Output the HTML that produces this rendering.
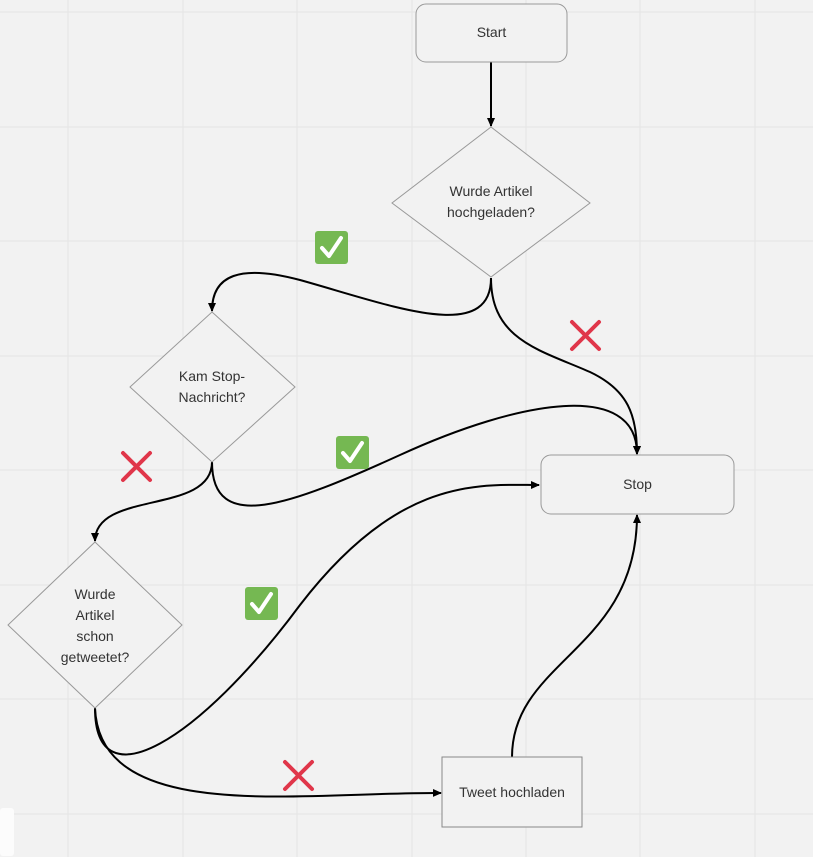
<!DOCTYPE html>
<html><head><meta charset="utf-8"><style>
html,body{margin:0;padding:0;background:#f2f2f2;}
svg{display:block}
text{font-family:"Liberation Sans","DejaVu Sans",sans-serif;font-size:14px;fill:#333;}
</style></head><body>
<svg width="813" height="857" viewBox="0 0 813 857" xmlns="http://www.w3.org/2000/svg">
<defs>
<marker id="a" markerWidth="10" markerHeight="10" refX="8" refY="5" orient="auto" markerUnits="userSpaceOnUse">
<path d="M0,1 L9,5 L0,9 Z" fill="#000"/>
</marker>
</defs>
<rect width="813" height="857" fill="#f2f2f2"/>
<g stroke="#e4e4e4" stroke-width="1">
<line x1="68" y1="0" x2="68" y2="857"/><line x1="183" y1="0" x2="183" y2="857"/>
<line x1="297" y1="0" x2="297" y2="857"/><line x1="412" y1="0" x2="412" y2="857"/>
<line x1="526" y1="0" x2="526" y2="857"/><line x1="640" y1="0" x2="640" y2="857"/>
<line x1="755" y1="0" x2="755" y2="857"/>
<line x1="0" y1="12" x2="813" y2="12"/><line x1="0" y1="127" x2="813" y2="127"/>
<line x1="0" y1="241" x2="813" y2="241"/><line x1="0" y1="356" x2="813" y2="356"/>
<line x1="0" y1="470" x2="813" y2="470"/><line x1="0" y1="585" x2="813" y2="585"/>
<line x1="0" y1="699" x2="813" y2="699"/><line x1="0" y1="814" x2="813" y2="814"/>
</g>
<rect x="0" y="808" width="14" height="48" rx="3" fill="#fcfcfc"/>

<g fill="none" stroke="#000" stroke-width="2">
<path d="M491,62 L491,126" marker-end="url(#a)"/>
<path d="M491,278 C491,345 390,305 300,280 C240,264 212,275 212,311" marker-end="url(#a)"/>
<path d="M491,278 C491,340 540,350 590,372 C628,390 637,415 637,454" marker-end="url(#a)"/>
<path d="M212,462 C212,535 290,505 400,455 C520,400 637,380 637,454" marker-end="url(#a)"/>
<path d="M212,462 C212,515 95,490 95,541" marker-end="url(#a)"/>
<path d="M95,708 C95,805 200,740 300,605 C400,475 480,485 539,485" marker-end="url(#a)"/>
<path d="M95,708 C100,825 300,792 441,793" marker-end="url(#a)"/>
<path d="M512,757 C512,660 637,650 637,515" marker-end="url(#a)"/>
</g>

<rect x="416" y="4" width="151" height="58" rx="10" fill="#f2f2f2" stroke="#999"/>
<text x="491.5" y="37" text-anchor="middle">Start</text>
<rect x="541" y="455" width="193" height="59" rx="10" fill="#f2f2f2" stroke="#999"/>
<text x="637.5" y="489" text-anchor="middle">Stop</text>
<rect x="442" y="757" width="140" height="70" fill="#f2f2f2" stroke="#888"/>
<text x="512" y="797" text-anchor="middle">Tweet hochladen</text>

<polygon points="491,127 590,203 491,277 392,203" fill="#f2f2f2" stroke="#999"/>
<text x="491" y="196" text-anchor="middle">Wurde Artikel</text>
<text x="491" y="217" text-anchor="middle">hochgeladen?</text>
<polygon points="212,312 295,387 212,462 130,387" fill="#f2f2f2" stroke="#999"/>
<text x="212" y="381" text-anchor="middle">Kam Stop-</text>
<text x="212" y="402" text-anchor="middle">Nachricht?</text>
<polygon points="95,542 182,625 95,708 8,625" fill="#f2f2f2" stroke="#999"/>
<text x="95" y="599" text-anchor="middle">Wurde</text>
<text x="95" y="620" text-anchor="middle">Artikel</text>
<text x="95" y="641" text-anchor="middle">schon</text>
<text x="95" y="662" text-anchor="middle">getweetet?</text>

<g>
<rect x="315" y="231" width="33" height="33" rx="3" fill="#75b852"/>
<path d="M322,248 L329,256 L341,238" fill="none" stroke="#fff" stroke-width="4" stroke-linecap="round" stroke-linejoin="round"/>
<rect x="336" y="436" width="33" height="33" rx="3" fill="#75b852"/>
<path d="M343,453 L350,461 L362,443" fill="none" stroke="#fff" stroke-width="4" stroke-linecap="round" stroke-linejoin="round"/>
<rect x="245" y="587" width="33" height="33" rx="3" fill="#75b852"/>
<path d="M252,604 L259,612 L271,594" fill="none" stroke="#fff" stroke-width="4" stroke-linecap="round" stroke-linejoin="round"/>
</g>
<g stroke="#e0364a" stroke-width="4" stroke-linecap="round">
<path d="M572,322 L599,349 M599,322 L572,349"/>
<path d="M123,453 L150,480 M150,453 L123,480"/>
<path d="M285,762 L312,789 M312,762 L285,789"/>
</g>
</svg>
</body></html>
